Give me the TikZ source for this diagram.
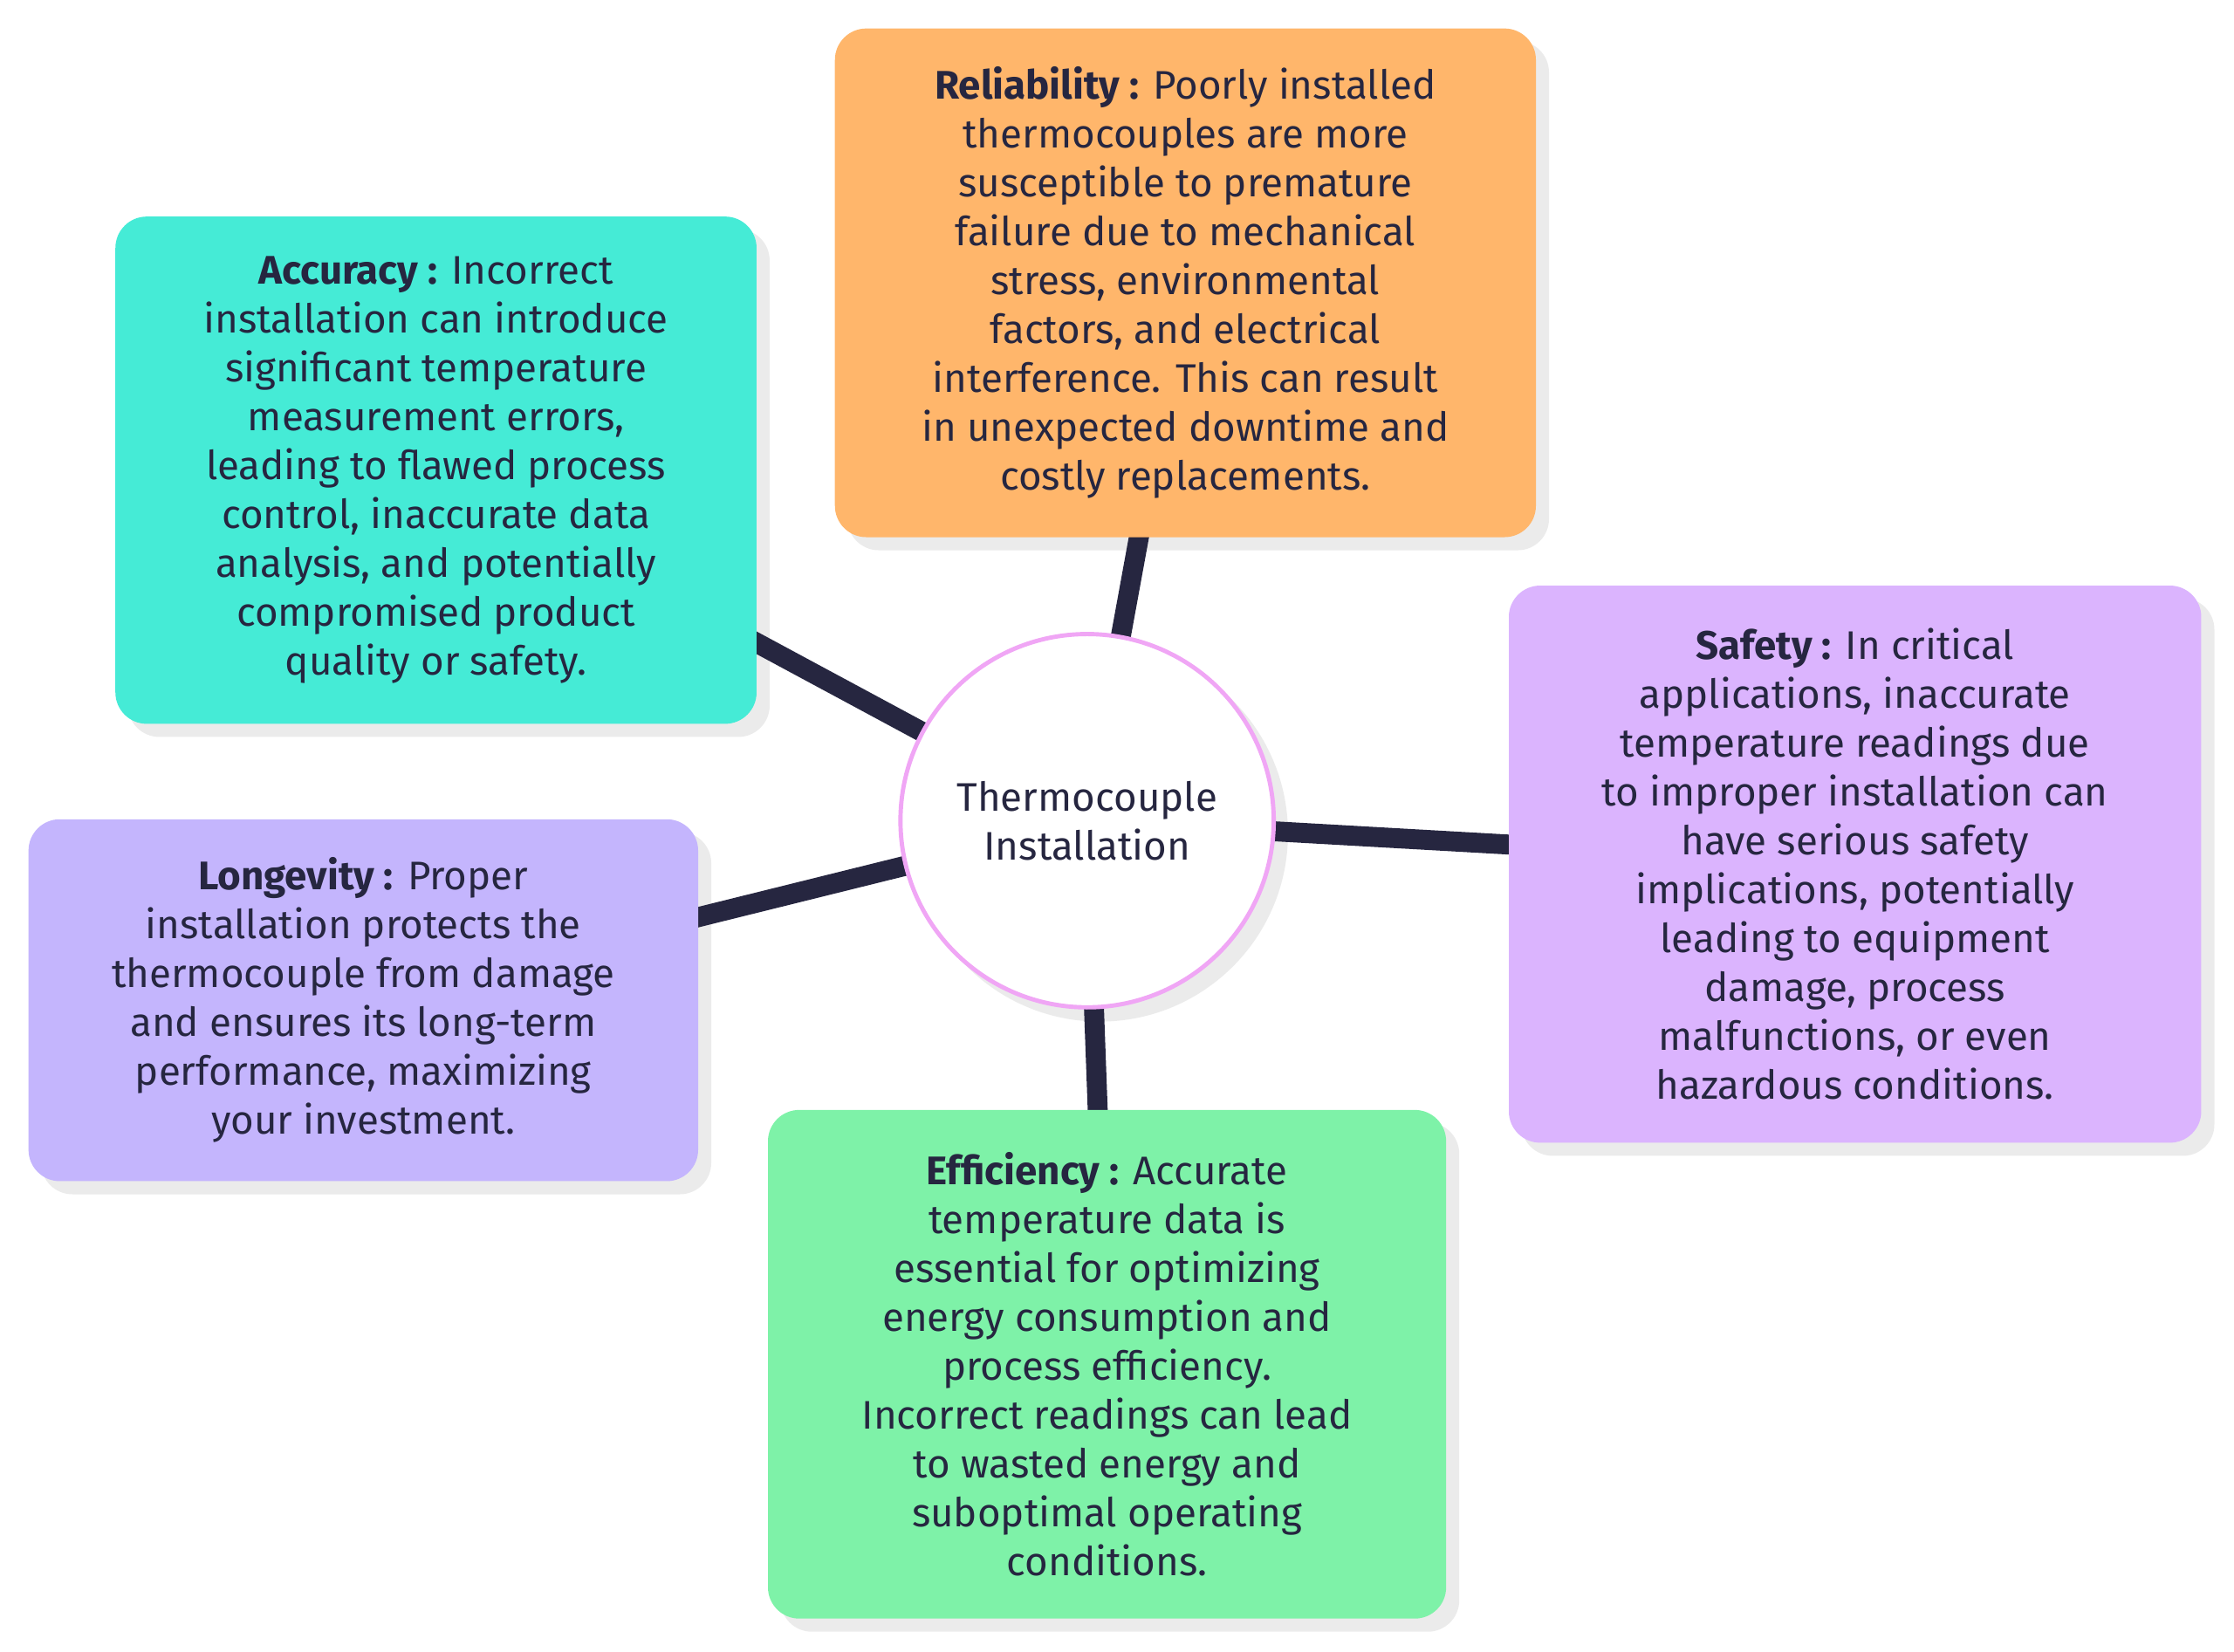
\documentclass[tikz,border=0pt]{standalone}
\usepackage{fontspec}
\setmainfont{Fira Sans}
\usetikzlibrary{backgrounds}
\definecolor{ink}{HTML}{262640}
\definecolor{cOr}{HTML}{FFB66B}
\definecolor{cTe}{HTML}{45EBD6}
\definecolor{cPu}{HTML}{DBB4FE}
\definecolor{cLa}{HTML}{C4B5FD}
\definecolor{cGr}{HTML}{7EF2A8}
\definecolor{cPk}{HTML}{F0A6F5}
\definecolor{shd}{HTML}{EBEBEB}
\tikzset{
 box/.style={rounded corners=22pt, inner sep=0pt, align=center, text=ink,
   font=\fontsize{28}{34.3}\selectfont},
 link/.style={ink, line width=14pt},
}
\newcommand{\shadowof}[2]{\fill[shd, rounded corners=#2] ([shift={(9pt,-9pt)}]#1.south west) rectangle ([shift={(9pt,-9pt)}]#1.north east);}
\begin{document}
\begin{tikzpicture}[x=1pt,y=1pt]
\useasboundingbox (0,0) rectangle (1568,-1159);
\node[box, fill=cOr, minimum width=492pt, minimum height=357pt] (rel) at (832,-198.5)
 {\textbf{Reliability :} Poorly installed\\thermocouples are more\\susceptible to premature\\failure due to mechanical\\stress, environmental\\factors, and electrical\\interference. This can result\\in unexpected downtime and\\costly replacements.};
\node[box, fill=cTe, minimum width=450pt, minimum height=356pt] (acc) at (306,-330)
 {\textbf{Accuracy :} Incorrect\\installation can introduce\\significant temperature\\measurement errors,\\leading to flawed process\\control, inaccurate data\\analysis, and potentially\\compromised product\\quality or safety.};
\node[box, fill=cPu, minimum width=486pt, minimum height=391pt] (saf) at (1302,-606.5)
 {\textbf{Safety :} In critical\\applications, inaccurate\\temperature readings due\\to improper installation can\\have serious safety\\implications, potentially\\leading to equipment\\damage, process\\malfunctions, or even\\hazardous conditions.};
\node[box, fill=cLa, minimum width=470pt, minimum height=254pt] (lon) at (255,-702)
 {\textbf{Longevity :} Proper\\installation protects the\\thermocouple from damage\\and ensures its long-term\\performance, maximizing\\your investment.};
\node[box, fill=cGr, minimum width=476pt, minimum height=357pt] (eff) at (777,-957.5)
 {\textbf{Efficiency :} Accurate\\temperature data is\\essential for optimizing\\energy consumption and\\process efficiency.\\Incorrect readings can lead\\to wasted energy and\\suboptimal operating\\conditions.};
\node[circle, draw=cPk, line width=3pt, fill=white, minimum size=262pt, inner sep=0pt, align=center, text=ink, font=\fontsize{28}{34.3}\selectfont] (ctr) at (763,-576) {Thermocouple\\Installation};
\begin{pgfonlayer}{background}
\shadowof{rel}{22pt}\shadowof{acc}{22pt}\shadowof{saf}{22pt}\shadowof{lon}{22pt}\shadowof{eff}{22pt}
\fill[shd] ([shift={(9pt,-9pt)}]ctr.center) circle (132pt);
\foreach \n in {rel,acc,saf,lon,eff} \draw[link] (ctr.center) -- (\n.center);
\end{pgfonlayer}
\end{tikzpicture}
\end{document}
